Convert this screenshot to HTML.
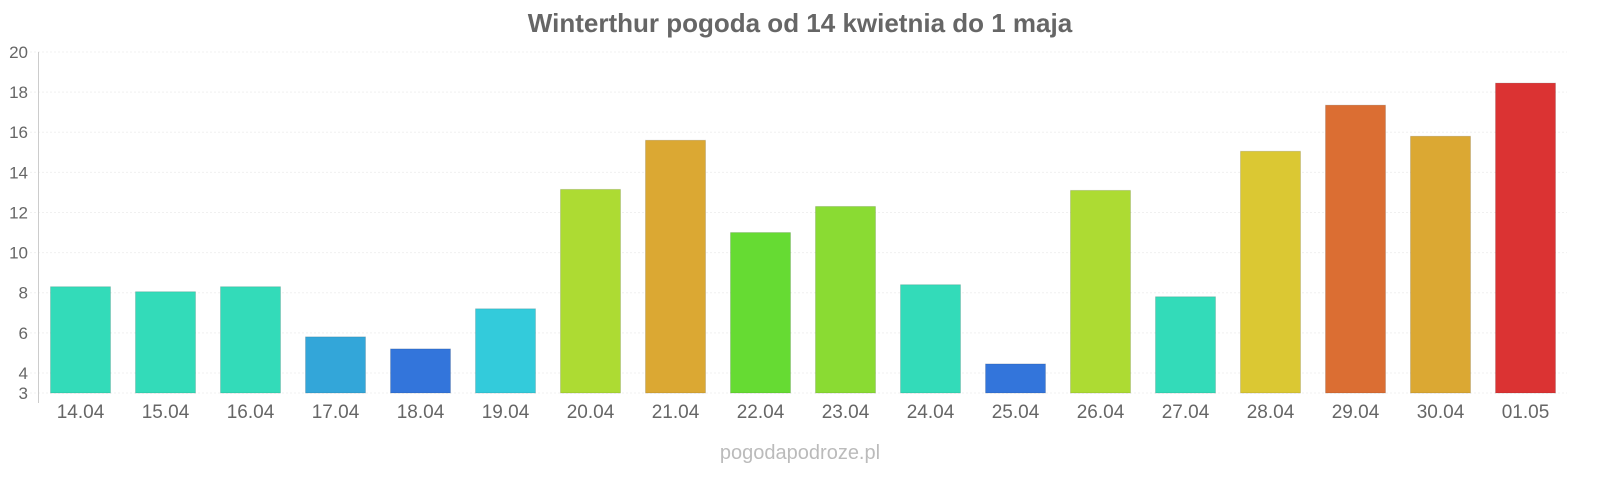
<!DOCTYPE html>
<html><head><meta charset="utf-8"><style>
body{margin:0;background:#fff;font-family:"Liberation Sans",sans-serif}
</style></head><body>
<svg width="1600" height="480" xmlns="http://www.w3.org/2000/svg">
<text x="800" y="32" text-anchor="middle" font-size="26" font-weight="bold" fill="#666">Winterthur pogoda od 14 kwietnia do 1 maja</text>
<g id="grid"></g>
<g id="bars"></g>
<g id="xlabels"></g>
<g id="ylabels"></g>
<line x1="38.5" y1="52" x2="38.5" y2="403" stroke="#ccc"/>
<text x="800" y="459" text-anchor="middle" font-size="20" fill="#bbb">pogodapodroze.pl</text>
</svg>
<script>
const categories=["14.04","15.04","16.04","17.04","18.04","19.04","20.04","21.04","22.04","23.04","24.04","25.04","26.04","27.04","28.04","29.04","30.04","01.05"];
const values=[8.3,8.05,8.3,5.8,5.2,7.2,13.15,15.6,11.0,12.3,8.4,4.45,13.1,7.8,15.05,17.35,15.8,18.45];
const colors=["#33dbb9","#33dbb9","#33dbb9","#33a6d9","#3375db","#33cbdb","#addb33","#dba833","#66db33","#8adb33","#33dbb9","#3375db","#addb33","#33dbb9","#dbc833","#db6e33","#dba833","#db3333"];
const yTicks=[3,4,6,8,10,12,14,16,18,20];
const NS="http://www.w3.org/2000/svg";
const y0=393,y1=52,vmin=3,vmax=20;
function y(v){return y0-(v-vmin)/(vmax-vmin)*(y0-y1);}
function x(i){return 38+85*i+42.5;}
const grid=document.getElementById('grid'),bars=document.getElementById('bars'),xl=document.getElementById('xlabels'),yl=document.getElementById('ylabels');
yTicks.forEach(t=>{
 const l=document.createElementNS(NS,'line');
 
 
 l.setAttribute('x1',30);l.setAttribute('x2',1567);l.setAttribute('y1',y(t));l.setAttribute('y2',y(t));
 l.setAttribute('stroke','#f0f0f0');l.setAttribute('stroke-dasharray','2,2');grid.appendChild(l);
 const tx=document.createElementNS(NS,'text');
 
 
 tx.setAttribute('x',28);tx.setAttribute('y',y(t)+6);tx.setAttribute('text-anchor','end');tx.setAttribute('font-size','17');tx.setAttribute('fill','#666');
 tx.textContent=t;yl.appendChild(tx);
});
categories.forEach((c,i)=>{
 const r=document.createElementNS(NS,'rect');
 
 
 r.setAttribute('x',x(i)-30);r.setAttribute('width',60);r.setAttribute('y',y(values[i]));r.setAttribute('height',y0-y(values[i]));
 r.setAttribute('fill',colors[i]);r.setAttribute('stroke','rgba(0,0,0,0.12)');bars.appendChild(r);
 const t=document.createElementNS(NS,'text');
 
 
 t.setAttribute('x',x(i));t.setAttribute('y',418);t.setAttribute('text-anchor','middle');t.setAttribute('font-size','19');t.setAttribute('fill','#666');
 t.textContent=c;xl.appendChild(t);
});
</script>
</body></html>
